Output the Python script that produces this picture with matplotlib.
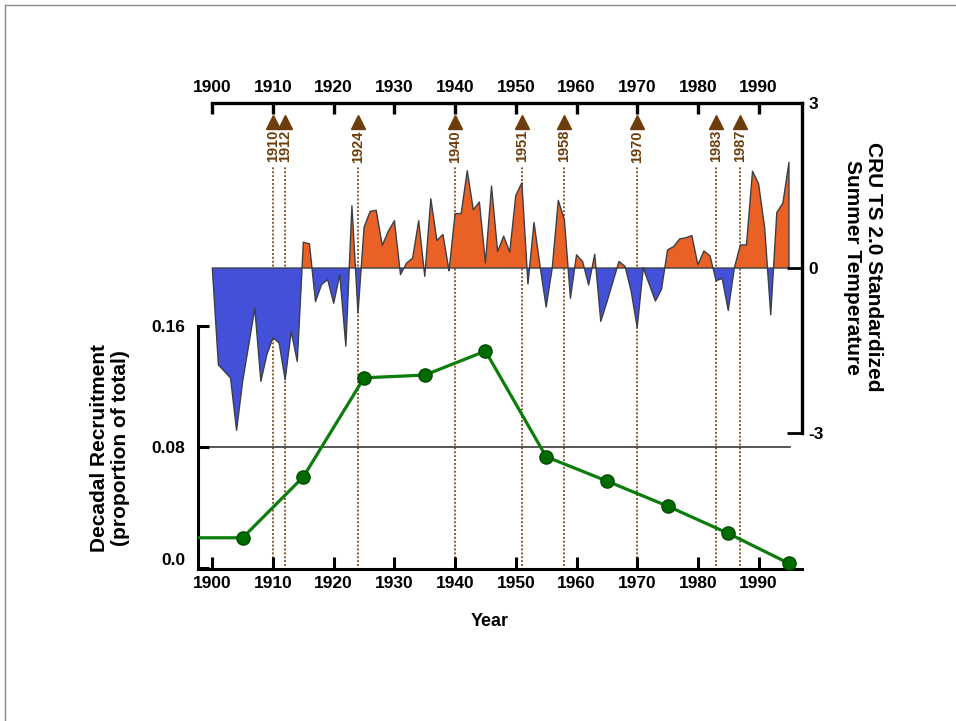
import matplotlib
matplotlib.use('Agg')
import matplotlib.pyplot as plt
from matplotlib.lines import Line2D
import numpy as np

plt.rcParams['font.family'] = ['Liberation Sans', 'DejaVu Sans']
plt.rcParams['font.weight'] = 'bold'

# CRU TS 2.0 standardized summer temperature
temp_years = list(range(1900, 1996))
temp_values = [0.0, -1.76, -1.88, -2.00, -2.95, -2.06, -1.40, -0.73, -2.06, -1.57,
               -1.27, -1.36, -2.03, -1.15, -1.70, 0.47, 0.44, -0.61, -0.30, -0.21,
               -0.64, -0.12, -1.42, 1.13, -0.82, 0.74, 1.03, 1.05, 0.41, 0.67,
               0.86, -0.12, 0.09, 0.18, 0.86, -0.15, 1.26, 0.50, 0.61, -0.05,
               0.99, 0.99, 1.77, 1.06, 1.20, 0.09, 1.49, 0.30, 0.58, 0.29,
               1.32, 1.55, -0.29, 0.83, 0.03, -0.71, 0.00, 1.23, 0.88, -0.55,
               0.24, 0.12, -0.31, 0.25, -0.97, -0.62, -0.25, 0.12, 0.03, -0.42,
               -1.08, 0.00, -0.30, -0.60, -0.39, 0.33, 0.39, 0.53, 0.55, 0.59,
               0.06, 0.31, 0.22, -0.23, -0.19, -0.77, 0.00, 0.42, 0.42, 1.76,
               1.53, 0.73, -0.85, 1.01, 1.18, 1.92]

# decadal recruitment (proportion of total)
rec_years = [1895, 1905, 1915, 1925, 1935, 1945, 1955, 1965, 1975, 1985, 1995]
rec_values = [0.0197, 0.0197, 0.0601, 0.1257, 0.1275, 0.1434, 0.0734, 0.0573, 0.0407, 0.0226, 0.0027]

event_years = [1910, 1912, 1924, 1940, 1951, 1958, 1970, 1983, 1987]
decade_ticks = list(range(1900, 2000, 10))

brown = '#6e3d0c'
xlim = (1897.64, 1997.1)

fig = plt.figure(figsize=(9.56, 7.21), dpi=100)
ax1 = fig.add_axes([0.2071, 0.2108, 0.6315, 0.3370])
ax2 = fig.add_axes([0.2071, 0.3994, 0.6315, 0.4577])
ax2.patch.set_visible(False)

# --- bottom panel: recruitment ---
ax1.set_xlim(xlim)
ax1.set_ylim(-0.001, 0.16)
for s in ['top', 'right']:
    ax1.spines[s].set_visible(False)
for s in ['left', 'bottom']:
    ax1.spines[s].set_linewidth(2.2)
ax1.set_xticks(decade_ticks)
ax1.set_yticks([0.0, 0.08, 0.16])
ax1.set_yticklabels(['0.0', '0.08', '0.16'])
ax1.get_yticklabels()[0].set_va('bottom')
ax1.tick_params(axis='x', direction='in', length=9, width=2.2, labelsize=12.5, pad=5)
ax1.tick_params(axis='y', direction='in', length=8, width=2.2, labelsize=12.5, pad=9)

ax1.axhline(0.08, xmin=0, xmax=0.9806, color='#3a3a3a', lw=1.2, zorder=1)
for yr in event_years:
    ax1.axvline(yr, ymin=0.012, ymax=1.658, clip_on=False, color='#8b5a2b',
                lw=1.4, linestyle=(0, (1, 1)), zorder=0)

ax1.plot(rec_years, rec_values, color='#0a7d0a', lw=2.3, zorder=4)
ax1.plot(rec_years[1:], rec_values[1:], 'o', ms=9.5, mfc='#006c00', mec='#004a00',
         mew=1, clip_on=False, zorder=5)

# --- top panel: temperature ---
y = np.array(temp_values)
ax2.fill_between(temp_years, y, 0, where=y >= 0, interpolate=True,
                 facecolor='#ea6126', edgecolor='#3b4046', lw=1)
ax2.fill_between(temp_years, y, 0, where=y <= 0, interpolate=True,
                 facecolor='#4350d8', edgecolor='#3b4046', lw=1)

ax2.set_xlim(xlim)
ax2.set_ylim(-3, 3)
for s in ['left', 'bottom']:
    ax2.spines[s].set_visible(False)
for s in ['top', 'right']:
    ax2.spines[s].set_linewidth(2.4)
ax2.spines['top'].set_bounds(1900, xlim[1])
ax2.xaxis.tick_top()
ax2.yaxis.tick_right()
ax2.set_xticks(decade_ticks)
ax2.set_yticks([-3, 0, 3])
ax2.set_yticklabels(['-3', '0', '3'])
ax2.tick_params(axis='x', direction='in', length=8, width=2.4, labelsize=12.5, pad=6)
ax2.tick_params(axis='y', direction='in', length=11, width=2, labelsize=12.5, pad=5)

trans = ax2.get_xaxis_transform()
ax2.plot(event_years, [0.943] * len(event_years), '^', ms=10, color=brown,
         transform=trans, clip_on=False)
for yr in event_years:
    ax2.text(yr, 0.918, str(yr), transform=trans, rotation=90, ha='center', va='top',
             fontsize=10.5, color=brown, fontweight='bold')

# axis titles
fig.text(110 / 956, 1 - 448 / 721, 'Decadal Recruitment\n(proportion of total)',
         rotation=90, ha='center', va='center', fontsize=15, fontweight='bold',
         multialignment='center', linespacing=1.15)
fig.text(863 / 956, 1 - 267 / 721, 'CRU TS 2.0 Standardized\nSummer Temperature',
         rotation=-90, ha='center', va='center', fontsize=15, fontweight='bold',
         multialignment='center', linespacing=1.15)
fig.text(490 / 956, 1 - 622 / 721, 'Year', ha='center', va='center',
         fontsize=13, fontweight='bold')

# slide frame
fig.add_artist(Line2D([5 / 956, 1], [1 - 5 / 721] * 2, color='#8a8a8a', lw=1))
fig.add_artist(Line2D([5 / 956] * 2, [0, 1 - 5 / 721], color='#8a8a8a', lw=1))

fig.savefig('out.png', dpi=100)
